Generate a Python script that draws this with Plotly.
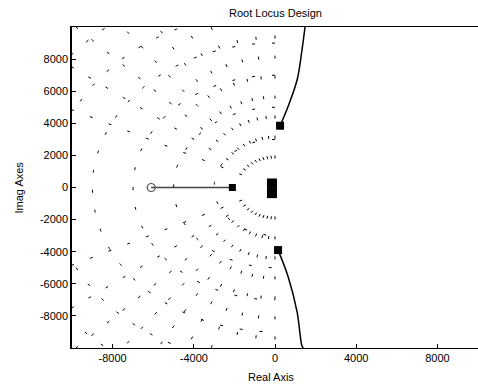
import numpy as np
import plotly.graph_objects as go

# --- data ---
x_ticks = [-8000, -4000, 0, 4000, 8000]
y_ticks = [-8000, -6000, -4000, -2000, 0, 2000, 4000, 6000, 8000]

zero_x = [-6100]
zero_y = [0]

real_pole_x = [-2100]
real_pole_y = [0]

origin_pole_x = [-150, -150]
origin_pole_y = [250, -350]

cplx_pole_x = [250, 150]
cplx_pole_y = [3850, -3900]

real_branch_x = [-6100, -2100]
real_branch_y = [0, 0]

upper_branch_x = [250, 640, 1090, 1330, 1480]
upper_branch_y = [3850, 5030, 6710, 8570, 10000]

lower_branch_x = [150, 640, 1090, 1330, 1400]
lower_branch_y = [-3900, -5530, -7760, -9880, -10000]

# s-plane grid (damping ratios and natural frequencies)
grid_zeta = [0.0, 0.1, 0.2, 0.3, 0.4, 0.5, 0.6, 0.7, 0.8, 0.9]
grid_wn = [3000, 5000, 7000, 9000, 11000, 13000]
grid_r0 = 1800  # rays start away from the origin

fig = go.Figure()

dash_style = dict(color="black", width=1, dash="3px,17px")
R = 15000
for z in grid_zeta:
    th = np.arccos(z)
    for sgn in (1, -1):
        fig.add_trace(go.Scatter(x=[-grid_r0 * np.cos(th), -R * np.cos(th)],
                                 y=[sgn * grid_r0 * np.sin(th), sgn * R * np.sin(th)],
                                 mode="lines", line=dash_style, hoverinfo="skip",
                                 showlegend=False))
for wn in grid_wn:
    ang = np.linspace(np.pi / 2, 3 * np.pi / 2, 200)
    fig.add_trace(go.Scatter(x=wn * np.cos(ang), y=wn * np.sin(ang), mode="lines",
                             line=dash_style, hoverinfo="skip", showlegend=False))

# locus branches
fig.add_trace(go.Scatter(x=real_branch_x, y=real_branch_y, mode="lines",
                         line=dict(color="#444", width=1.5), showlegend=False))
fig.add_trace(go.Scatter(x=upper_branch_x, y=upper_branch_y, mode="lines",
                         line=dict(color="black", width=1.5, shape="spline"), showlegend=False))
fig.add_trace(go.Scatter(x=lower_branch_x, y=lower_branch_y, mode="lines",
                         line=dict(color="black", width=1.5, shape="spline"), showlegend=False))

# poles and zero
fig.add_trace(go.Scatter(x=zero_x, y=zero_y, mode="markers",
                         marker=dict(symbol="circle-open", size=8, color="#555",
                                     line=dict(width=1.2)), showlegend=False))
fig.add_trace(go.Scatter(x=real_pole_x, y=real_pole_y, mode="markers",
                         marker=dict(symbol="square", size=7, color="black"), showlegend=False))
fig.add_trace(go.Scatter(x=origin_pole_x, y=origin_pole_y, mode="markers",
                         marker=dict(symbol="square", size=10, color="black"), showlegend=False))
fig.add_trace(go.Scatter(x=cplx_pole_x, y=cplx_pole_y, mode="markers",
                         marker=dict(symbol="square", size=8, color="black"), showlegend=False))

font = dict(family="Liberation Sans, Arial, sans-serif", size=11, color="black")

fig.update_layout(
    width=478, height=384,
    margin=dict(l=72, r=0, t=27, b=36),
    paper_bgcolor="white", plot_bgcolor="white",
    font=font,
    xaxis=dict(range=[-10000, 10000], tickvals=x_ticks, ticktext=[str(v) for v in x_ticks],
               showgrid=False, zeroline=False, showline=True, linecolor="black",
               linewidth=1, mirror=True, ticks="inside", ticklen=4, tickcolor="black",
               tickfont=font),
    yaxis=dict(range=[-10000, 10000], tickvals=y_ticks, ticktext=[str(v) for v in y_ticks],
               showgrid=False, zeroline=False, showline=True, linecolor="black",
               linewidth=1.5, mirror=False, ticks="inside", ticklen=4, tickcolor="black",
               tickfont=font),
    annotations=[
        dict(text="Root Locus Design", xref="paper", yref="paper", x=0.5, y=1,
             yshift=14, showarrow=False, font=font, xanchor="center", yanchor="middle"),
        dict(text="Real Axis", xref="paper", yref="paper", x=0.49, y=0, yshift=-29,
             showarrow=False, font=font, xanchor="center", yanchor="middle"),
        dict(text="Imag Axes", xref="paper", yref="paper", x=0, y=0.5, xshift=-54,
             showarrow=False, font=font, textangle=-90, xanchor="center", yanchor="middle"),
    ],
)

fig.write_html("out.html")
